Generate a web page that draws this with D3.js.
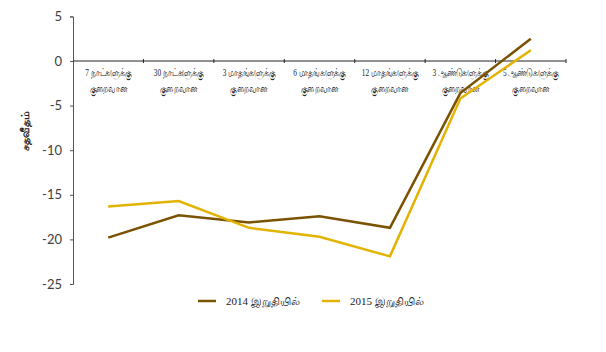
<!DOCTYPE html>
<html>
<head>
<meta charset="utf-8">
<script src="https://cdn.jsdelivr.net/npm/d3@7"></script>
<style>
  html, body { margin: 0; padding: 0; background: #fff; }
  svg { display: block; }
  .tick-num { font-family: "Lato", "DejaVu Sans", sans-serif; font-size: 13px; fill: #404040; }
  .cat { font-family: "Liberation Serif", serif; font-size: 10.5px; fill: #222; }
  .legend { font-family: "Liberation Serif", serif; font-size: 11px; fill: #222; }
</style>
</head>
<body>
<svg id="chart" width="606" height="352"></svg>
<script>
// Maturity buckets (two-line labels)
const categoriesLine1 = ["7 நாட்களுக்கு", "30 நாட்களுக்கு", "3 மாதங்களுக்கு", "6 மாதங்களுக்கு", "12 மாதங்களுக்கு", "3 ஆண்டுகளுக்கு", "5 ஆண்டுகளுக்கு"];
const categoriesLine2 = ["குறைவான", "குறைவான", "குறைவான", "குறைவான", "குறைவான", "குறைவான", "குறைவான"];

// Percentage values per series
const values2014 = [-19.8, -17.3, -18.1, -17.4, -18.7, -3.6, 2.5];
const values2015 = [-16.3, -15.7, -18.7, -19.7, -21.9, -4.2, 1.2];

const seriesNames = ["2014 இறுதியில்", "2015 இறுதியில்"];
const seriesColors = ["#7a5200", "#e2b300"];

const yTicks = [5, 0, -5, -10, -15, -20, -25];
const yTitle = "சதவீதம்";

const svg = d3.select("#chart");

const plotLeft = 73, plotRight = 566, plotTop = 16.4, plotBottom = 284;

const x = d3.scaleBand().domain(d3.range(categoriesLine1.length)).range([plotLeft, plotRight]);
const y = d3.scaleLinear().domain([-25, 5]).range([plotBottom, plotTop]);

// Y axis
const yAxis = d3.axisLeft(y).tickValues(yTicks).tickSize(3).tickPadding(8).tickFormat(d3.format("d"));
const gy = svg.append("g").attr("transform", `translate(${plotLeft},0)`).call(yAxis);
gy.select(".domain").attr("stroke", "#555");
gy.selectAll(".tick line").attr("stroke", "#555");
gy.selectAll(".tick text").attr("class", "tick-num").attr("font-family", null).attr("font-size", null)
  .text(d => d < 0 ? "-" + Math.abs(d) : d);

// X axis along zero line, ticks at category boundaries
const boundaries = d3.range(categoriesLine1.length + 1).map(i => plotLeft + i * x.step());
svg.append("line")
  .attr("x1", plotLeft).attr("x2", plotRight)
  .attr("y1", y(0)).attr("y2", y(0))
  .attr("stroke", "#222").attr("stroke-width", 1);
svg.selectAll(".xtick").data(boundaries.slice(1)).enter().append("line")
  .attr("x1", d => d).attr("x2", d => d)
  .attr("y1", y(0) - 2).attr("y2", y(0) + 2)
  .attr("stroke", "#222");

// Category labels, drawn in a condensed face
const cats = svg.append("g");
categoriesLine1.forEach((c, i) => {
  const cx = x(i) + x.bandwidth() / 2;
  cats.append("text").attr("class", "cat")
    .attr("transform", `translate(${cx},${y(0) + 15}) scale(0.7,1)`)
    .attr("text-anchor", "middle").text(c);
  cats.append("text").attr("class", "cat")
    .attr("transform", `translate(${cx},${y(0) + 31}) scale(0.7,1)`)
    .attr("text-anchor", "middle").text(categoriesLine2[i]);
});

// Y axis title
svg.append("text")
  .attr("transform", `translate(29,131) rotate(-90)`)
  .attr("text-anchor", "middle")
  .attr("font-family", "Liberation Serif, serif")
  .attr("font-size", 11)
  .attr("font-weight", "bold")
  .attr("fill", "#222")
  .text(yTitle);

// Lines
const line = d3.line()
  .x((d, i) => x(i) + x.bandwidth() / 2)
  .y(d => y(d));

[values2014, values2015].forEach((vals, k) => {
  svg.append("path")
    .datum(vals)
    .attr("fill", "none")
    .attr("stroke", seriesColors[k])
    .attr("stroke-width", 2.5)
    .attr("stroke-linejoin", "miter")
    .attr("d", line);
});

// Legend
const legendX = [198, 322];
seriesNames.forEach((name, k) => {
  const g = svg.append("g").attr("transform", `translate(${legendX[k]},301)`);
  g.append("line").attr("x1", 0).attr("x2", 18).attr("y1", 0).attr("y2", 0)
    .attr("stroke", seriesColors[k]).attr("stroke-width", 2.5);
  g.append("text").attr("class", "legend").attr("x", 28).attr("y", 4).text(name);
});
</script>
</body>
</html>
